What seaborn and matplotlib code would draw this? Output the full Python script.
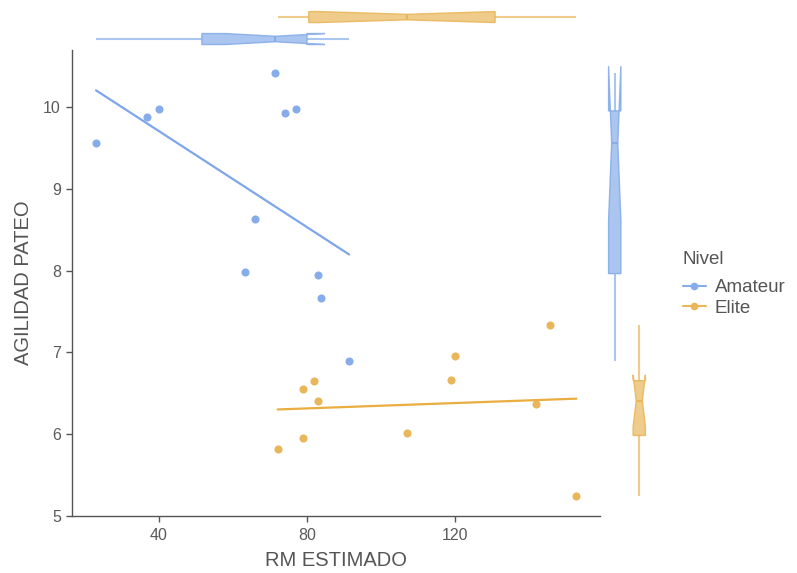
import matplotlib
matplotlib.use("Agg")
import matplotlib.pyplot as plt
import seaborn as sns
import pandas as pd
import numpy as np
from matplotlib.lines import Line2D
from matplotlib.colors import to_rgba

# Data
amateur_rm = [23.0, 36.8, 40.0, 71.4, 74.1, 77.0, 65.9, 63.2, 83.0, 83.8, 91.4]
amateur_ag = [9.56, 9.88, 9.98, 10.42, 9.93, 9.98, 8.63, 7.98, 7.95, 7.67, 6.89]
elite_rm = [145.8, 119.9, 118.8, 82.0, 79.0, 83.0, 141.8, 107.0, 79.0, 72.1, 152.8]
elite_ag = [7.34, 6.96, 6.66, 6.65, 6.55, 6.41, 6.37, 6.02, 5.95, 5.82, 5.24]
niveles = ["Amateur", "Elite"]
colors = {"Amateur": "#86ade9", "Elite": "#e9b75a"}
line_colors = {"Amateur": "#7ea6ea", "Elite": "#e9ad40"}

df = pd.DataFrame({
    "RM ESTIMADO": amateur_rm + elite_rm,
    "AGILIDAD PATEO": amateur_ag + elite_ag,
    "Nivel": ["Amateur"] * len(amateur_rm) + ["Elite"] * len(elite_rm),
})

sns.set_style("white")
plt.rcParams["font.family"] = ["Liberation Sans", "DejaVu Sans"]

W, H = 797, 573
fig = plt.figure(figsize=(W / 100, H / 100), dpi=100)

def box(l, t, r, b):
    return [l / W, 1 - b / H, (r - l) / W, (b - t) / H]

ax = fig.add_axes(box(72, 50, 600, 516))
axt = fig.add_axes(box(72, 5, 600, 50), sharex=ax)
axr = fig.add_axes(box(600, 50, 654, 516), sharey=ax)

for n in niveles:
    sub = df[df["Nivel"] == n]
    sns.regplot(data=sub, x="RM ESTIMADO", y="AGILIDAD PATEO", ax=ax, ci=None,
                scatter_kws=dict(s=34, color=colors[n], alpha=1, linewidths=0),
                line_kws=dict(color=line_colors[n], lw=1.6))

ax.set_xticks([40, 80, 120])
ax.set_yticks([5, 6, 7, 8, 9, 10])
sns.despine(ax=ax)
for s in ["left", "bottom"]:
    ax.spines[s].set_color("#555555")
    ax.spines[s].set_linewidth(1.0)
ax.tick_params(axis="x", pad=5)
ax.tick_params(axis="y", pad=4)
ax.tick_params(axis="both", which="both", direction="out", length=4, width=1,
               color="#555555", labelcolor="#5a5a5a", labelsize=11.5,
               left=True, bottom=True)
ax.set_xlabel("RM ESTIMADO", fontsize=14.5, color="#555555", labelpad=5.5)
ax.set_ylabel("AGILIDAD PATEO", fontsize=14.5, color="#555555", labelpad=7)

def style_boxes(a):
    for patch, n in zip([p for p in a.patches], niveles):
        patch.set_facecolor(to_rgba(colors[n], 0.7))
        patch.set_edgecolor(to_rgba(colors[n], 0.9))
        patch.set_linewidth(1.0)

# Top marginal boxplots (x)
sns.boxplot(data=df, x="RM ESTIMADO", y="Nivel", hue="Nivel", order=niveles,
            palette=colors, orient="h", notch=True, showcaps=False, width=0.5,
            showfliers=False, legend=False, ax=axt,
            whiskerprops=dict(alpha=0.7, lw=1.5),
            medianprops=dict(lw=1.5))
style_boxes(axt)
for line, n in zip(axt.lines, [n for n in niveles for _ in range(int(len(axt.lines) / 2))]):
    line.set_color(colors[n])
axt.set_ylim(-0.5, 1.55)
axt.set_axis_off()

# Right marginal boxplots (y)
sns.boxplot(data=df, x="Nivel", y="AGILIDAD PATEO", hue="Nivel", order=niveles,
            palette=colors, orient="v", notch=True, showcaps=False, width=0.5,
            showfliers=False, legend=False, ax=axr,
            whiskerprops=dict(alpha=0.7, lw=1.5),
            medianprops=dict(lw=1.5))
style_boxes(axr)
for line, n in zip(axr.lines, [n for n in niveles for _ in range(int(len(axr.lines) / 2))]):
    line.set_color(colors[n])
axr.set_xlim(-0.6, 1.6)
axr.set_axis_off()
ax.set_ylim(5.0, 10.7)
ax.set_xlim(16.5, 159.2)

fig.text(683 / W, 1 - 260 / H, "Nivel", fontsize=13.5, color="#555555",
         ha="left", va="center")
handles = [Line2D([0], [0], color=colors[n], lw=1.5, marker="o", markersize=4.5) for n in niveles]
leg = fig.legend(handles, niveles, loc="upper left",
                 bbox_to_anchor=(683 / W, 1 - 279 / H), frameon=False,
                 fontsize=13.5, handlelength=1.2, handletextpad=0.5,
                 labelspacing=0.2, borderpad=0, borderaxespad=0)
for t in leg.get_texts():
    t.set_color("#555555")

fig.savefig("out.png", dpi=100)
